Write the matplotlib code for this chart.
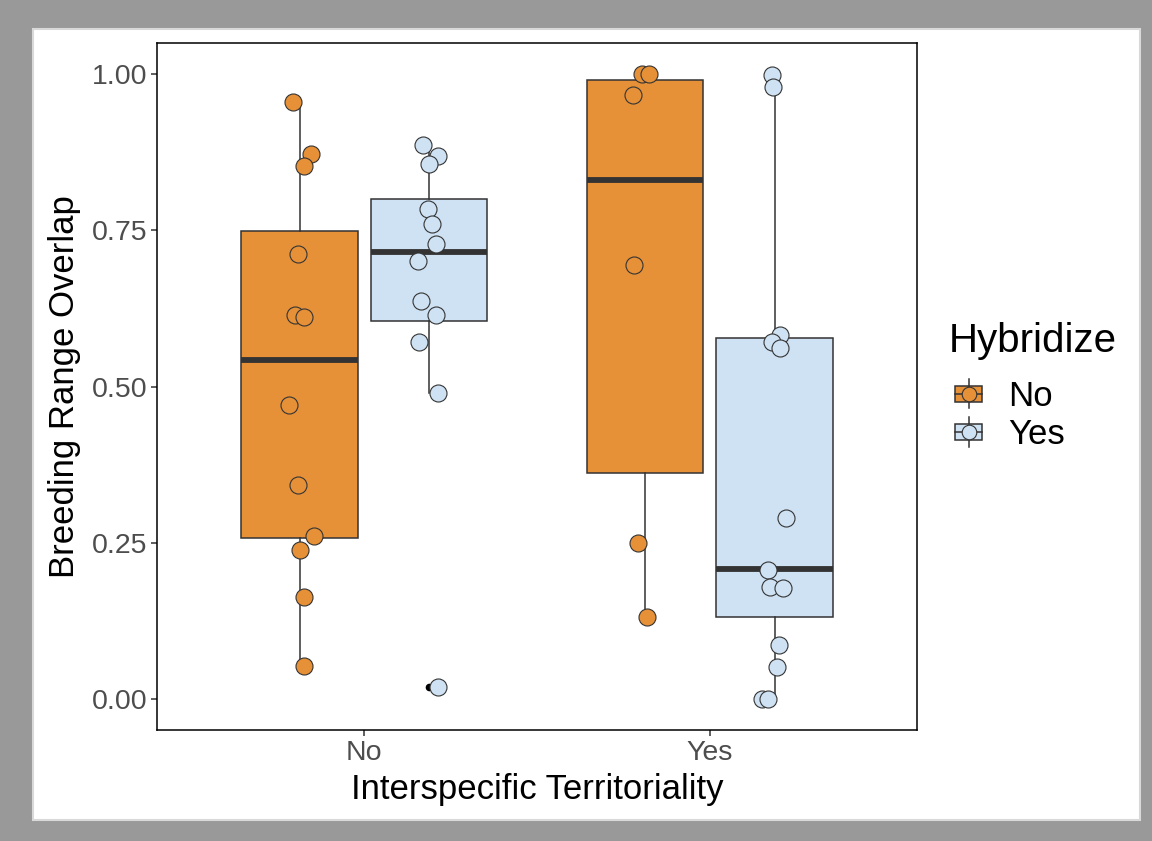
import matplotlib
matplotlib.use("Agg")
import matplotlib.pyplot as plt
from matplotlib.patches import Rectangle
from matplotlib.lines import Line2D
from matplotlib.legend_handler import HandlerBase

plt.rcParams['font.family'] = ['Liberation Sans', 'DejaVu Sans']

# ---------------- data ----------------
territoriality = ["No", "Yes"]          # x categories
hybridize = ["No", "Yes"]               # fill groups
colors = {"No": "#e69138", "Yes": "#cfe2f3"}

pts_no_no = [0.955, 0.872, 0.853, 0.712, 0.615, 0.612, 0.471, 0.343, 0.260, 0.238, 0.163, 0.053]
jit_no_no = [-0.020, 0.032, 0.014, -0.003, -0.014, 0.012, -0.029, -0.003, 0.041, 0.0, 0.014, 0.014]

pts_no_yes = [0.887, 0.869, 0.856, 0.784, 0.760, 0.728, 0.701, 0.637, 0.615, 0.572, 0.490, 0.019]
jit_no_yes = [-0.017, 0.026, 0.0, -0.003, 0.009, 0.020, -0.032, -0.023, 0.020, -0.029, 0.026, 0.026]

pts_yes_no = [1.0, 1.0, 0.966, 0.695, 0.249, 0.131]
jit_yes_no = [-0.009, 0.012, -0.035, -0.032, -0.020, 0.006]

pts_yes_yes = [0.998, 0.979, 0.583, 0.572, 0.561, 0.289, 0.206, 0.179, 0.177, 0.086, 0.051, 0.0, 0.0]
jit_yes_yes = [-0.006, -0.003, 0.017, -0.006, 0.017, 0.032, -0.020, -0.014, 0.026, 0.012, 0.006, -0.035, -0.020]

# box statistics: (whislo, q1, median, q3, whishi, fliers)
box_no_no = (0.053, 0.257, 0.543, 0.749, 0.955, [])
box_no_yes = (0.490, 0.605, 0.716, 0.801, 0.888, [0.019])
box_yes_no = (0.131, 0.361, 0.830, 0.990, 1.000, [])
box_yes_yes = (0.000, 0.131, 0.208, 0.577, 0.998, [])

y_ticks = [0.00, 0.25, 0.50, 0.75, 1.00]
y_ticklabels = ["0.00", "0.25", "0.50", "0.75", "1.00"]

groups = [
    ("No", "No", box_no_no, pts_no_no, jit_no_no),
    ("No", "Yes", box_no_yes, pts_no_yes, jit_no_yes),
    ("Yes", "No", box_yes_no, pts_yes_no, jit_yes_no),
    ("Yes", "Yes", box_yes_yes, pts_yes_yes, jit_yes_yes),
]

# ---------------- figure ----------------
W, H = 1152, 841
fig = plt.figure(figsize=(W / 100, H / 100), dpi=100, facecolor="#999999")
fig.patches.append(Rectangle((33 / W, 1 - 820 / H), (1140 - 33) / W, (820 - 29) / H,
                             transform=fig.transFigure, facecolor="white",
                             edgecolor="#d9d9d9", lw=1.5, zorder=-5))

ax = fig.add_axes([157 / W, 1 - 730 / H, (917 - 157) / W, (730 - 43) / H])
ax.set_facecolor("white")
ax.set_zorder(2)

dark = "#333333"
dodge = 0.1875
bwidth = 0.3375

for tcat, hcat, box, pts, jit in groups:
    base = territoriality.index(tcat) + 1
    pos = base + (-dodge if hcat == "No" else dodge)
    st = dict(whislo=box[0], q1=box[1], med=box[2], q3=box[3], whishi=box[4], fliers=box[5])
    ax.bxp([st], positions=[pos], widths=bwidth, patch_artist=True, showcaps=False,
           boxprops=dict(facecolor=colors[hcat], edgecolor=dark, linewidth=1.1),
           medianprops=dict(color=dark, linewidth=4.2, solid_capstyle="butt"),
           whiskerprops=dict(color=dark, linewidth=1.1),
           flierprops=dict(marker="o", markersize=4.5, markerfacecolor="black",
                           markeredgecolor="black"),
           zorder=2)
    ax.scatter([pos + j for j in jit], pts, s=150, facecolor=colors[hcat],
               edgecolor=dark, linewidth=0.8, zorder=4)

ax.set_xlim(0.4, 2.6)
ax.set_ylim(-0.05, 1.05)
ax.set_xticks([1, 2])
ax.set_xticklabels(territoriality)
ax.set_yticks(y_ticks)
ax.set_yticklabels(y_ticklabels)
ax.tick_params(axis="both", direction="out", length=4.5, width=1.1, color=dark,
               labelsize=20.5, labelcolor="#4d4d4d", pad=2.5)
for s in ax.spines.values():
    s.set_color("black")
    s.set_linewidth(1.1)

ax.set_xlabel("Interspecific Territoriality", fontsize=25, color="black")
ax.set_ylabel("Breeding Range Overlap", fontsize=25, color="black")
ax.xaxis.set_label_coords(0.5, -0.062)
ax.yaxis.set_label_coords(-0.100, 0.5)


# ---------------- legend ----------------
class BoxKey(HandlerBase):
    def create_artists(self, legend, orig_handle, xdescent, ydescent, width, height,
                       fontsize, trans):
        fc = orig_handle.get_facecolor()
        x0, y0 = -xdescent, -ydescent
        cx, cy = x0 + width / 2, y0 + height / 2
        bw, bh = width * 0.9, height * 0.56
        rect = Rectangle((cx - bw / 2, cy - bh / 2), bw, bh, facecolor=fc,
                         edgecolor=dark, lw=1.1, transform=trans)
        med = Line2D([cx - bw / 2, cx + bw / 2], [cy, cy], color=dark, lw=1.1, transform=trans)
        wt = Line2D([cx, cx], [cy + bh / 2, y0 + height], color=dark, lw=1.1, transform=trans)
        wb = Line2D([cx, cx], [y0, cy - bh / 2], color=dark, lw=1.1, transform=trans)
        dot = Line2D([cx], [cy], marker="o", markersize=10.5, markerfacecolor=fc,
                     markeredgecolor=dark, markeredgewidth=0.8, linestyle="none",
                     transform=trans)
        return [rect, med, wt, wb, dot]


fig.text(949 / W, 1 - 341 / H, "Hybridize", fontsize=29, color="black",
         ha="left", va="center")
handles = [Rectangle((0, 0), 1, 1, facecolor=colors[h]) for h in hybridize]
leg = fig.legend(handles, hybridize, loc="center left",
                 bbox_to_anchor=(954 / W, 1 - 415 / H), frameon=False,
                 fontsize=25, handlelength=0.86, handleheight=0.92,
                 handletextpad=0.7, labelspacing=0.13, borderpad=0, borderaxespad=0,
                 handler_map={Rectangle: BoxKey()})

fig.savefig("out.png", dpi=100, facecolor=fig.get_facecolor())
